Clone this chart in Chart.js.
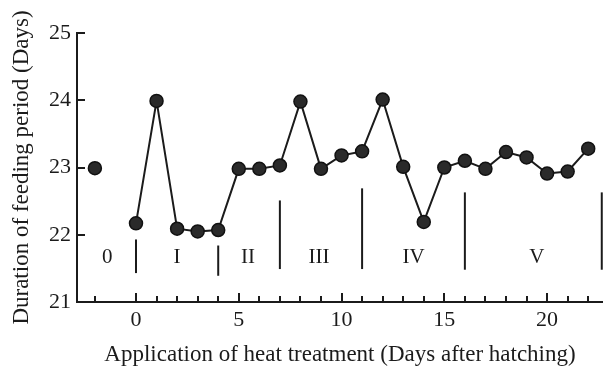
<!DOCTYPE html>
<html>
<head>
<meta charset="utf-8">
<script src="https://cdn.jsdelivr.net/npm/chart.js@4"></script>
<style>
  html, body { margin: 0; padding: 0; background: #fff; }
  #wrap { width: 603px; height: 374px; }
</style>
</head>
<body>
<div id="wrap"><canvas id="chart" width="603" height="374"></canvas></div>
<script>
// --- data ---
const days = [0, 1, 2, 3, 4, 5, 6, 7, 8, 9, 10, 11, 12, 13, 14, 15, 16, 17, 18, 19, 20, 21, 22];
const duration = [22.17, 23.99, 22.09, 22.05, 22.07, 22.98, 22.98, 23.03, 23.98, 22.98, 23.18, 23.24,
                  24.01, 23.01, 22.19, 23.0, 23.1, 22.98, 23.23, 23.15, 22.91, 22.94, 23.28];
const controlDay = [-2];
const controlDuration = [22.99];

// stage separators (vertical bars) and stage names
const stageBounds = [0, 4, 7, 11, 16, 22.66];
const stageTops = [21.93, 21.84, 22.51, 22.69, 22.63, 22.63];
const stageBottoms = [21.43, 21.39, 21.49, 21.49, 21.48, 21.48];
const stageLabels = ['0', 'I', 'II', 'III', 'IV', 'V'];
const stageLabelX = [-1.4, 2.0, 5.45, 8.9, 13.5, 19.5];
const stageLabelY = 21.66;

const xMajorTicks = [0, 5, 10, 15, 20];
const xMinorTicks = [-2, 1, 2, 3, 4, 6, 7, 8, 9, 11, 12, 13, 14, 16, 17, 18, 19, 21, 22];
const yTicks = [21, 22, 23, 24, 25];

const INK = '#1b1b1b';
const SERIF = "'Liberation Serif', 'DejaVu Serif', serif";

const mainPoints = days.map((d, i) => ({ x: d, y: duration[i] }));
const controlPoints = controlDay.map((d, i) => ({ x: d, y: controlDuration[i] }));

const separatorSets = stageBounds.map((b, i) => ({
  data: [{ x: b, y: stageBottoms[i] }, { x: b, y: stageTops[i] }],
  showLine: true,
  borderColor: INK,
  borderWidth: 2,
  pointRadius: 0,
  clip: false
}));

// inward tick marks + stage labels, placed through the scales
const decorPlugin = {
  id: 'decor',
  afterDatasetsDraw(chart) {
    const { ctx, scales: { x, y }, chartArea } = chart;
    ctx.save();
    ctx.strokeStyle = INK;
    ctx.lineWidth = 2;
    const base = chartArea.bottom;
    xMajorTicks.forEach(v => {
      const px = Math.round(x.getPixelForValue(v));
      ctx.beginPath(); ctx.moveTo(px, base); ctx.lineTo(px, base - 9); ctx.stroke();
    });
    xMinorTicks.forEach(v => {
      const px = Math.round(x.getPixelForValue(v));
      ctx.beginPath(); ctx.moveTo(px, base); ctx.lineTo(px, base - 6); ctx.stroke();
    });
    yTicks.forEach(v => {
      const py = Math.round(y.getPixelForValue(v));
      ctx.beginPath(); ctx.moveTo(chartArea.left, py); ctx.lineTo(chartArea.left + 8, py); ctx.stroke();
    });

    ctx.fillStyle = INK;
    ctx.font = '21px ' + SERIF;
    ctx.textAlign = 'center';
    ctx.textBaseline = 'middle';
    stageLabels.forEach((t, i) => {
      ctx.fillText(t, x.getPixelForValue(stageLabelX[i]), y.getPixelForValue(stageLabelY));
    });
    ctx.restore();
  }
};

new Chart(document.getElementById('chart'), {
  type: 'scatter',
  data: {
    datasets: [
      {
        data: mainPoints,
        showLine: true,
        borderColor: INK,
        borderWidth: 2,
        pointRadius: 6.5,
        pointBackgroundColor: '#2a2a2a',
        pointBorderColor: '#111',
        pointBorderWidth: 1.5,
        clip: false
      },
      {
        data: controlPoints,
        showLine: false,
        pointRadius: 6.5,
        pointBackgroundColor: '#2a2a2a',
        pointBorderColor: '#111',
        pointBorderWidth: 1.5,
        clip: false
      },
      ...separatorSets
    ]
  },
  options: {
    responsive: false,
    animation: false,
    layout: { autoPadding: false, padding: { top: 33, right: 0, left: 0, bottom: 0 } },
    plugins: { legend: { display: false }, tooltip: { enabled: false } },
    scales: {
      x: {
        type: 'linear',
        min: -2.87,
        max: 22.72,
        afterFit: s => { s.height = 72; s.paddingLeft = 0; s.paddingRight = 0; },
        afterBuildTicks: s => { s.ticks = xMajorTicks.map(v => ({ value: v })); },
        grid: { display: false, drawTicks: false },
        border: { color: INK, width: 2 },
        ticks: { color: INK, font: { family: SERIF, size: 22 }, padding: 5, maxRotation: 0 },
        title: {
          display: true,
          text: 'Application of heat treatment (Days after hatching)',
          color: INK,
          font: { family: SERIF, size: 23 },
          padding: { top: 0, bottom: 5 }
        }
      },
      y: {
        type: 'linear',
        min: 21,
        max: 25,
        afterFit: s => { s.width = 77; s.paddingTop = 0; s.paddingBottom = 0; },
        afterBuildTicks: s => { s.ticks = yTicks.map(v => ({ value: v })); },
        grid: { display: false, drawTicks: false },
        border: { color: INK, width: 2 },
        ticks: { color: INK, font: { family: SERIF, size: 22 }, padding: 6 },
        title: {
          display: true,
          text: 'Duration of feeding period (Days)',
          color: INK,
          font: { family: SERIF, size: 23 },
          padding: { top: 8, bottom: 0 }
        }
      }
    }
  },
  plugins: [decorPlugin]
});
</script>
</body>
</html>
